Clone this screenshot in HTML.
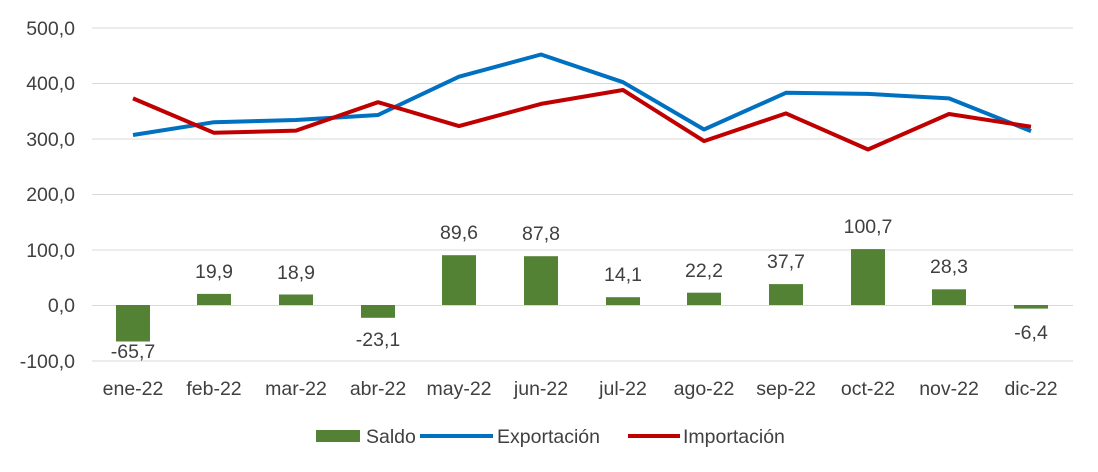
<!DOCTYPE html>
<html><head><meta charset="utf-8"><style>body{margin:0;background:#fff}svg{display:block}text{font-family:"Liberation Sans",sans-serif;fill:#404040}</style></head><body>
<svg width="1098" height="472" viewBox="0 0 1098 472">
<g stroke="#d9d9d9" stroke-width="1">
<line x1="92" y1="28" x2="1073" y2="28"/><line x1="92" y1="83.5" x2="1073" y2="83.5"/><line x1="92" y1="139" x2="1073" y2="139"/><line x1="92" y1="194.5" x2="1073" y2="194.5"/><line x1="92" y1="250" x2="1073" y2="250"/><line x1="92" y1="305.5" x2="1073" y2="305.5"/><line x1="92" y1="361" x2="1073" y2="361"/>
</g>
<g font-size="19.5" text-anchor="end">
<text x="75" y="35">500,0</text><text x="75" y="90">400,0</text><text x="75" y="146">300,0</text><text x="75" y="201">200,0</text><text x="75" y="257">100,0</text><text x="75" y="312">0,0</text><text x="75" y="368">-100,0</text>
</g>
<g fill="#548235">
<rect x="116" y="305" width="34" height="36.5"/><rect x="197" y="293.9" width="34" height="11.1"/><rect x="279" y="294.5" width="34" height="10.5"/><rect x="361" y="305" width="34" height="12.8"/><rect x="442" y="255.2" width="34" height="49.8"/><rect x="524" y="256.2" width="34" height="48.8"/><rect x="606" y="297.2" width="34" height="7.8"/><rect x="687" y="292.7" width="34" height="12.3"/><rect x="769" y="284.1" width="34" height="20.9"/><rect x="851" y="249.1" width="34" height="55.9"/><rect x="932" y="289.3" width="34" height="15.7"/><rect x="1014" y="305" width="34" height="3.6"/>
</g>
<g font-size="19.5" text-anchor="middle">
<text x="133" y="358">-65,7</text><text x="214" y="278">19,9</text><text x="296" y="279">18,9</text><text x="378" y="346">-23,1</text><text x="459" y="239">89,6</text><text x="541" y="240">87,8</text><text x="623" y="281">14,1</text><text x="704" y="277">22,2</text><text x="786" y="268">37,7</text><text x="868" y="233">100,7</text><text x="949" y="273">28,3</text><text x="1031" y="339">-6,4</text>
</g>
<polyline fill="none" stroke="#0070c0" stroke-width="4" stroke-linejoin="round" points="133,135 214,122.2 296,120 378,115 459,76.7 541,54.5 623,82.2 704,129.5 786,92.8 868,93.9 949,98.4 1031,131.1"/>
<polyline fill="none" stroke="#c00000" stroke-width="4" stroke-linejoin="round" points="133,98.4 214,132.8 296,130.6 378,102.2 459,126.1 541,103.9 623,90 704,141.1 786,113.4 868,149.5 949,114 1031,126.7"/>
<g font-size="19.5" text-anchor="middle">
<text x="133" y="395">ene-22</text><text x="214" y="395">feb-22</text><text x="296" y="395">mar-22</text><text x="378" y="395">abr-22</text><text x="459" y="395">may-22</text><text x="541" y="395">jun-22</text><text x="623" y="395">jul-22</text><text x="704" y="395">ago-22</text><text x="786" y="395">sep-22</text><text x="868" y="395">oct-22</text><text x="949" y="395">nov-22</text><text x="1031" y="395">dic-22</text>
</g>
<rect x="316" y="430" width="44" height="12" fill="#548235"/>
<text x="366" y="443" font-size="19.5">Saldo</text>
<line x1="420" y1="436" x2="493" y2="436" stroke="#0070c0" stroke-width="4"/>
<text x="497" y="443" font-size="19.5">Exportación</text>
<line x1="628" y1="436" x2="680" y2="436" stroke="#c00000" stroke-width="4"/>
<text x="683" y="443" font-size="19.5">Importación</text>
</svg>
</body></html>
